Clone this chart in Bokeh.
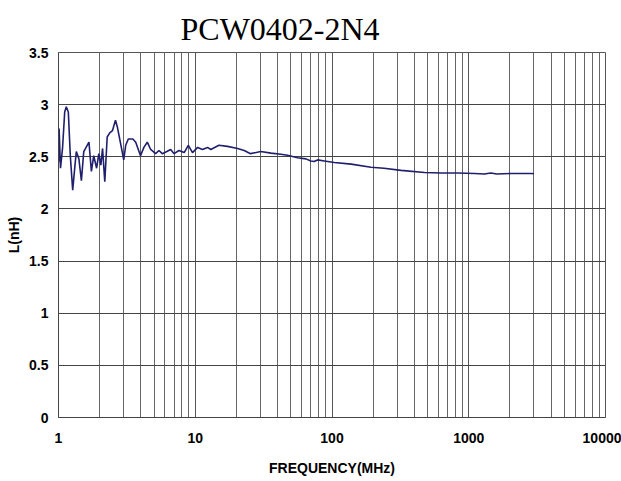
from bokeh.plotting import figure
from bokeh.models import Range1d, FixedTicker
from bokeh.embed import file_html
from bokeh.resources import INLINE

# ---- data ----
freq_mhz = [1.00, 1.01, 1.034, 1.07, 1.11, 1.14, 1.18, 1.22, 1.27, 1.32, 1.35, 1.41, 1.47, 1.53,
            1.67, 1.74, 1.81, 1.90, 1.97, 2.04, 2.10, 2.18, 2.27, 2.37, 2.48, 2.61, 2.70, 2.89,
            3.00, 3.10, 3.24, 3.50, 3.67, 3.98, 4.21, 4.46, 4.72, 5.13, 5.43, 5.74, 6.2, 6.61,
            7.0, 7.6, 8.3, 8.9, 9.55, 10.4, 11.3, 12.3, 13.0, 14.9, 17.2, 20.4, 22.8, 25.4,
            30.1, 35.8, 42.2, 47.3, 56.0, 64.5, 70.0, 74.0, 78.5, 87.8, 104, 138, 193, 240,
            320, 474, 627, 835, 1100, 1300, 1450, 1600, 2050, 2860, 3000]
inductance_nh = [2.45, 2.77, 2.39, 2.58, 2.93, 2.98, 2.93, 2.51, 2.18, 2.42, 2.55, 2.48, 2.27, 2.55,
                 2.64, 2.36, 2.51, 2.39, 2.53, 2.42, 2.58, 2.26, 2.69, 2.73, 2.75, 2.85, 2.78, 2.58,
                 2.47, 2.61, 2.67, 2.67, 2.64, 2.51, 2.59, 2.64, 2.57, 2.53, 2.56, 2.53, 2.55, 2.57,
                 2.53, 2.56, 2.54, 2.61, 2.54, 2.59, 2.57, 2.59, 2.57, 2.61, 2.60, 2.58, 2.56, 2.53,
                 2.55, 2.535, 2.525, 2.515, 2.49, 2.48, 2.46, 2.455, 2.47, 2.46, 2.445, 2.43, 2.40, 2.39,
                 2.37, 2.35, 2.344, 2.344, 2.34, 2.335, 2.345, 2.335, 2.34, 2.34, 2.337]

x_ticks = [1, 10, 100, 1000, 10000]
x_tick_labels = ["1", "10", "100", "1000", "10000"]
x_minor_mantissas = [2, 3, 4, 5, 6, 7, 8, 9]
y_ticks = [0, 0.5, 1, 1.5, 2, 2.5, 3, 3.5]
y_tick_labels = ["0", "0.5", "1", "1.5", "2", "2.5", "3", "3.5"]

title_text = "PCW0402-2N4"
x_label = "FREQUENCY(MHz)"
y_label = "L(nH)"

sans = "'Liberation Sans Narrow', 'Arial Narrow', 'Liberation Sans', sans-serif"
fsize = "14px"

p = figure(width=621, height=481, x_axis_type="log",
           x_range=Range1d(1, 10000), y_range=Range1d(0, 3.5),
           output_backend="svg", toolbar_location=None,
           min_border_left=58, min_border_right=16, min_border_top=52, min_border_bottom=64)

p.title.text = title_text
p.title.text_font = "Liberation Serif"
p.title.text_font_size = "32px"
p.title.text_font_style = "normal"
p.title.text_color = "black"
p.title.align = "left"
p.title.offset = 122
p.title.standoff = 12

p.background_fill_color = "white"
p.border_fill_color = "white"
p.outline_line_color = "#555555"
p.outline_line_width = 1

minor = [m * d for d in [1, 10, 100, 1000] for m in x_minor_mantissas]
p.xaxis.ticker = FixedTicker(ticks=x_ticks, minor_ticks=minor)
p.yaxis.ticker = FixedTicker(ticks=y_ticks)
p.xaxis.major_label_overrides = dict(zip(x_ticks, x_tick_labels))
p.yaxis.major_label_overrides = dict(zip(y_ticks, y_tick_labels))

for ax in (p.xaxis[0], p.yaxis[0]):
    ax.major_tick_line_color = None
    ax.minor_tick_line_color = None
    ax.major_tick_out = 0
    ax.major_tick_in = 0
    ax.minor_tick_out = 0
    ax.minor_tick_in = 0
    ax.axis_line_color = "#444444"
    ax.major_label_text_font = sans
    ax.major_label_text_font_style = "bold"
    ax.major_label_text_font_size = fsize
    ax.major_label_text_color = "black"
    ax.axis_label_text_font = sans
    ax.axis_label_text_font_style = "bold"
    ax.axis_label_text_font_size = fsize
    ax.axis_label_text_color = "black"

p.xaxis.axis_label = x_label
p.yaxis.axis_label = y_label
p.xaxis.major_label_standoff = 15
p.xaxis.axis_label_standoff = 14
p.yaxis.major_label_standoff = 10
p.yaxis.axis_label_standoff = 4

p.xgrid.grid_line_color = "#555555"
p.xgrid.minor_grid_line_color = "#666666"
p.xgrid.grid_line_width = 1
p.xgrid.minor_grid_line_width = 1
p.ygrid.grid_line_color = "#444444"
p.ygrid.grid_line_width = 1

p.line(freq_mhz, inductance_nh, line_color="#1f1f6e", line_width=1.6)

open("out.html", "w").write(file_html(p, INLINE))
